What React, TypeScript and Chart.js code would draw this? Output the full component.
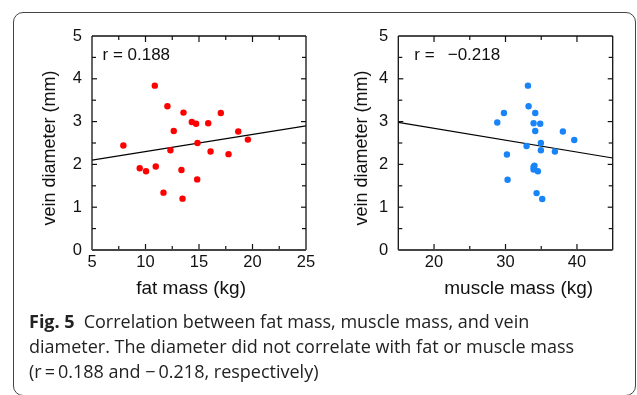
import { useEffect, useRef } from 'react';
import { Chart, registerables } from 'chart.js';

Chart.register(...registerables);

// ---- data ----
const fatMass = [10.87, 12.05, 13.55, 17.04, 14.33, 14.73, 15.86, 12.64, 18.67, 19.57, 7.93, 14.86, 12.33, 16.08, 17.76, 9.46, 10.05, 10.96, 13.36, 14.83, 11.68, 13.46];
const fatDiameter = [3.84, 3.36, 3.21, 3.2, 2.99, 2.95, 2.96, 2.78, 2.77, 2.58, 2.44, 2.5, 2.33, 2.3, 2.24, 1.91, 1.84, 1.95, 1.87, 1.65, 1.34, 1.2];
const muscleMass = [33.14, 33.23, 29.78, 34.16, 28.85, 33.93, 34.86, 34.16, 38.03, 39.62, 34.95, 32.95, 34.95, 36.91, 30.2, 33.93, 33.93, 34.53, 30.29, 34.35, 35.14, 34.05];
const muscleDiameter = [3.84, 3.36, 3.2, 3.2, 2.98, 2.96, 2.95, 2.78, 2.77, 2.57, 2.5, 2.43, 2.33, 2.3, 2.23, 1.94, 1.88, 1.84, 1.64, 1.33, 1.19, 1.97];
const fatFitX = [5, 25];
const fatFitY = [2.1, 2.9];
const muscleFitX = [15, 45];
const muscleFitY = [2.98, 2.15];

const yTickLabels = [0, 1, 2, 3, 4, 5];
const yTickMarks = [0.5, 1, 1.5, 2, 2.5, 3, 3.5, 4, 4.5];
const fatTickLabels = [5, 10, 15, 20, 25];
const fatMajorMarks = [10, 15, 20];
const fatMinorMarks = [7.5, 12.5, 17.5, 22.5];
const muscleTickLabels = [20, 30, 40];
const muscleMajorMarks = [20, 30, 40];
const muscleMinorMarks = [25, 35];

const fatR = ['r = 0.188'];
const muscleR = ['r =', '\u22120.218'];

const FONT = '"Liberation Sans", Arial, Helvetica, sans-serif';
const INK = '#111';

type FrameCfg = {
  xMajor: number[];
  xMinor: number[];
  rParts: { text: string; dx: number }[];
};

function framePlugin(cfg: FrameCfg) {
  return {
    id: 'frameTicks',
    afterDatasetsDraw(chart: any) {
      const { ctx, chartArea: a, scales } = chart;
      const xs = scales.x;
      const ys = scales.y;
      ctx.save();
      ctx.strokeStyle = INK;
      ctx.lineWidth = 1.2;
      const seg = (x1: number, y1: number, x2: number, y2: number) => {
        ctx.beginPath();
        ctx.moveTo(x1, y1);
        ctx.lineTo(x2, y2);
        ctx.stroke();
      };
      cfg.xMajor.forEach((v) => {
        const p = xs.getPixelForValue(v);
        seg(p, a.bottom, p, a.bottom - 6);
        seg(p, a.top, p, a.top + 6);
      });
      cfg.xMinor.forEach((v) => {
        const p = xs.getPixelForValue(v);
        seg(p, a.bottom, p, a.bottom - 4);
        seg(p, a.top, p, a.top + 4);
      });
      yTickMarks.forEach((v) => {
        const p = ys.getPixelForValue(v);
        const len = Number.isInteger(v) ? 5 : 4;
        seg(a.left, p, a.left + len, p);
        seg(a.right, p, a.right - len, p);
      });
      ctx.lineWidth = 1.3;
      seg(a.left, a.bottom, a.left, a.top);
      seg(a.left, a.top, a.right, a.top);
      seg(a.right, a.top, a.right, a.bottom);
      ctx.strokeStyle = '#444';
      ctx.lineWidth = 1.8;
      seg(a.left, a.bottom, a.right, a.bottom);

      ctx.fillStyle = INK;
      ctx.font = '17px ' + FONT;
      ctx.textAlign = 'left';
      ctx.textBaseline = 'alphabetic';
      cfg.rParts.forEach((p) => ctx.fillText(p.text, a.left + p.dx, a.top + 23.5));
      ctx.restore();
    },
  };
}

function makeConfig(opts: {
  xs: number[];
  ys: number[];
  fitX: number[];
  fitY: number[];
  color: string;
  xMin: number;
  xMax: number;
  xLabels: number[];
  xTitle: string;
  yAxisWidth: number;
  padRight: number;
  yTitlePad: number;
  frame: FrameCfg;
}): any {
  return {
    type: 'scatter',
    data: {
      datasets: [
        {
          data: opts.fitX.map((x, i) => ({ x, y: opts.fitY[i] })),
          showLine: true,
          borderColor: '#000',
          borderWidth: 1.2,
          pointRadius: 0,
          order: 2,
        },
        {
          data: opts.xs.map((x, i) => ({ x, y: opts.ys[i] })),
          backgroundColor: opts.color,
          pointBackgroundColor: opts.color,
          pointBorderWidth: 0,
          pointRadius: 3.2,
          order: 1,
        },
      ],
    },
    options: {
      responsive: false,
      animation: false,
      layout: { padding: { left: 0, top: 36, right: opts.padRight, bottom: 0 } },
      plugins: { legend: { display: false }, tooltip: { enabled: false } },
      scales: {
        x: {
          type: 'linear',
          min: opts.xMin,
          max: opts.xMax,
          afterBuildTicks: (s: any) => {
            s.ticks = opts.xLabels.map((v) => ({ value: v }));
          },
          afterFit: (s: any) => {
            s.height = 70;
          },
          grid: { display: false, drawTicks: false },
          border: { display: false },
          ticks: { padding: 3, color: INK, font: { family: FONT, size: 16.5 }, maxRotation: 0, autoSkip: false },
          title: {
            display: true,
            text: opts.xTitle,
            color: INK,
            font: { family: FONT, size: 19 },
            padding: { top: 0, bottom: 19.6 },
          },
        },
        y: {
          type: 'linear',
          min: 0,
          max: 5,
          afterBuildTicks: (s: any) => {
            s.ticks = yTickLabels.map((v) => ({ value: v }));
          },
          afterFit: (s: any) => {
            s.width = opts.yAxisWidth;
          },
          grid: { display: false, drawTicks: false },
          border: { display: false },
          ticks: { padding: 10, color: INK, font: { family: FONT, size: 16.5 }, autoSkip: false },
          title: {
            display: true,
            text: 'vein diameter (mm)  ',
            color: INK,
            font: { family: FONT, size: 18 },
            padding: { top: opts.yTitlePad, bottom: 0 },
          },
        },
      },
    },
    plugins: [framePlugin(opts.frame)],
  };
}

export default function App() {
  const leftRef = useRef<HTMLCanvasElement>(null);
  const rightRef = useRef<HTMLCanvasElement>(null);

  useEffect(() => {
    const c1 = new Chart(
      leftRef.current as HTMLCanvasElement,
      makeConfig({
        xs: fatMass,
        ys: fatDiameter,
        fitX: fatFitX,
        fitY: fatFitY,
        color: '#ff0000',
        xMin: 5,
        xMax: 25,
        xLabels: fatTickLabels,
        xTitle: 'fat mass (kg)   ',
        yAxisWidth: 92,
        padRight: 14,
        yTitlePad: 39,
        frame: { xMajor: fatMajorMarks, xMinor: fatMinorMarks, rParts: [{ text: fatR[0], dx: 10.5 }] },
      })
    );
    const c2 = new Chart(
      rightRef.current as HTMLCanvasElement,
      makeConfig({
        xs: muscleMass,
        ys: muscleDiameter,
        fitX: muscleFitX,
        fitY: muscleFitY,
        color: 'rgb(24,132,248)',
        xMin: 15,
        xMax: 45,
        xLabels: muscleTickLabels,
        xTitle: '     muscle mass (kg)',
        yAxisWidth: 78.3,
        padRight: 24.3,
        yTitlePad: 31,
        frame: {
          xMajor: muscleMajorMarks,
          xMinor: muscleMinorMarks,
          rParts: [
            { text: muscleR[0], dx: 16 },
            { text: muscleR[1], dx: 49.4 },
          ],
        },
      })
    );
    return () => {
      c1.destroy();
      c2.destroy();
    };
  }, []);

  const capFont = '"Open Sans", "Noto Sans", sans-serif';
  const lineStyle: any = { whiteSpace: 'nowrap', height: 25, lineHeight: '25px' };

  return (
    <div style={{ position: 'absolute', left: 0, top: 0, width: 637, height: 395, overflow: 'hidden', background: '#fff' }}>
      <div
        style={{
          position: 'absolute',
          left: 13,
          top: 12,
          width: 623,
          height: 384,
          boxSizing: 'border-box',
          border: '1px solid #444',
          borderRadius: 10,
        }}
      />
      <canvas ref={leftRef} width={320} height={320} style={{ position: 'absolute', left: 0, top: 0, width: 320, height: 320 }} />
      <canvas ref={rightRef} width={317} height={320} style={{ position: 'absolute', left: 320, top: 0, width: 317, height: 320 }} />
      <div style={{ position: 'absolute', left: 29, top: 309, fontFamily: capFont, fontSize: 18, color: '#222' }}>
        <div style={lineStyle}>
          <b style={{ fontWeight: 700 }}>Fig. 5</b>
          {'\u2002Correlation between fat mass, muscle mass, and vein'}
        </div>
        <div style={lineStyle}>diameter. The diameter did not correlate with fat or muscle mass</div>
        <div style={lineStyle}>(r{'\u2009=\u2009'}0.188 and {'\u2212\u2009'}0.218, respectively)</div>
      </div>
    </div>
  );
}
